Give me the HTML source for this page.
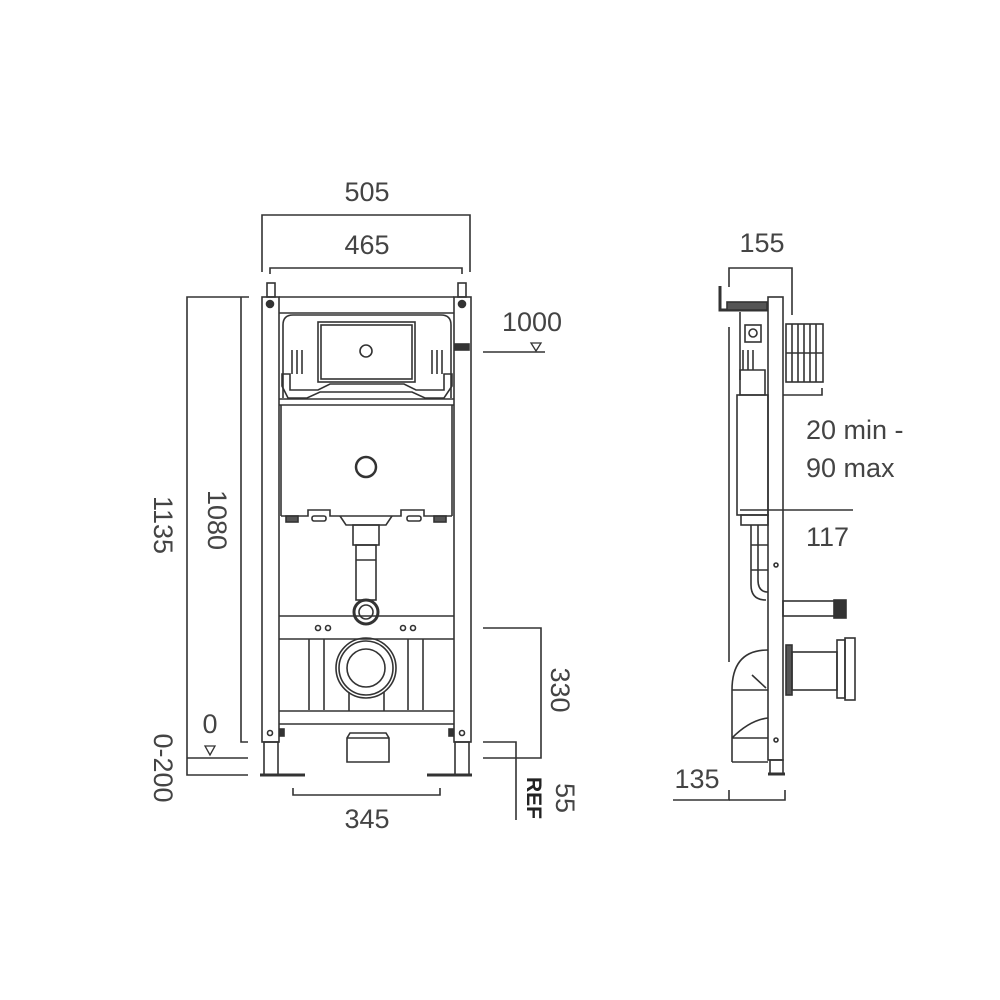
<!DOCTYPE html>
<html><head><meta charset="utf-8"><style>
html,body{margin:0;padding:0;background:#fff;}
svg{display:block;}
text{font-family:"Liberation Sans",sans-serif;fill:#444;font-size:27px;}
</style></head><body>
<svg width="1000" height="1000" viewBox="0 0 1000 1000" xmlns="http://www.w3.org/2000/svg">
<g fill="none" stroke="#333" stroke-width="1.6">
<!-- top dims -->
<polyline points="262,272 262,215 470,215 470,272"/>
<polyline points="270,274 270,268 462,268 462,274"/>
<!-- left dims -->
<polyline points="249,297 187,297 187,775 248,775"/>
<polyline points="241,297 241,742 248,742"/>
<line x1="187" y1="758" x2="248" y2="758"/>
<polygon points="205,746 215,746 210,755" stroke-width="1.3"/>
<!-- right dims -->
<line x1="483" y1="352" x2="545" y2="352"/>
<polygon points="531,343 541,343 536,351" stroke-width="1.3"/>
<polyline points="483,628 541,628 541,758 483,758"/>
<polyline points="483,742 516,742 516,820"/>
<polyline points="293,788 293,795 440,795 440,788"/>

<!-- front frame -->
<rect x="262" y="297" width="17" height="445"/>
<rect x="454" y="297" width="17" height="445"/>
<rect x="264" y="742" width="14" height="33"/>
<rect x="455" y="742" width="14" height="33"/>
<line x1="279" y1="297" x2="454" y2="297"/>
<line x1="279" y1="313" x2="454" y2="313"/>
<rect x="267" y="283" width="8" height="14"/>
<rect x="458" y="283" width="8" height="14"/>
<circle cx="270" cy="304" r="3.5" fill="#333"/>
<circle cx="462" cy="304" r="3.5" fill="#333"/>
<rect x="455" y="344" width="14" height="6" fill="#333"/>
<!-- upper cistern -->
<path d="M283,398 L283,325 Q283,315 293,315 L441,315 Q451,315 451,325 L451,398"/>
<rect x="318" y="322" width="97" height="60"/>
<rect x="321" y="325" width="91" height="54"/>
<circle cx="366" cy="351" r="6"/>
<path d="M282,374 L290,374 L290,390 L318,390 L330,384 L404,384 L416,390 L444,390 L444,374 L452,374 L452,386 L444,398 L425,398 L412,392 L320,392 L307,398 L288,398 L282,386 Z"/>
<line x1="292" y1="350" x2="292" y2="374"/><line x1="297" y1="350" x2="297" y2="374"/><line x1="302" y1="350" x2="302" y2="374"/>
<line x1="432" y1="350" x2="432" y2="374"/><line x1="437" y1="350" x2="437" y2="374"/><line x1="442" y1="350" x2="442" y2="374"/>
<line x1="279" y1="399" x2="454" y2="399"/>
<line x1="279" y1="405" x2="454" y2="405"/>
<!-- cistern body -->
<line x1="281" y1="405" x2="281" y2="516"/>
<line x1="452" y1="405" x2="452" y2="516"/>
<circle cx="366" cy="467" r="10" stroke-width="2.5"/>
<path d="M281,516 L308,516 L308,510 L330,510 L330,516 L401,516 L401,510 L424,510 L424,516 L452,516"/>
<rect x="312" y="516" width="14" height="5" rx="2"/>
<rect x="407" y="516" width="14" height="5" rx="2"/>
<path d="M340,516 L346,525 L386,525 L392,516"/>
<rect x="286" y="516" width="12" height="6" fill="#555"/>
<rect x="434" y="516" width="12" height="6" fill="#555"/>
<!-- pipe -->
<rect x="353" y="525" width="26" height="20"/>
<rect x="356" y="545" width="20" height="55"/>
<line x1="356" y1="560" x2="376" y2="560"/>
<circle cx="366" cy="612" r="12" stroke-width="3"/>
<circle cx="366" cy="612" r="7"/>
<!-- cross rail -->
<line x1="279" y1="616" x2="454" y2="616"/>
<line x1="279" y1="639" x2="454" y2="639"/>
<circle cx="318" cy="628" r="2.5"/><circle cx="328" cy="628" r="2.5"/>
<circle cx="403" cy="628" r="2.5"/><circle cx="413" cy="628" r="2.5"/>
<line x1="309" y1="639" x2="309" y2="710"/><line x1="324" y1="639" x2="324" y2="710"/>
<line x1="408" y1="639" x2="408" y2="710"/><line x1="423" y1="639" x2="423" y2="710"/>
<circle cx="366" cy="668" r="30"/>
<circle cx="366" cy="668" r="27"/>
<circle cx="366" cy="668" r="19"/>
<line x1="349" y1="692" x2="349" y2="711"/><line x1="384" y1="692" x2="384" y2="711"/>
<line x1="279" y1="711" x2="454" y2="711"/>
<line x1="279" y1="724" x2="454" y2="724"/>
<circle cx="270" cy="733" r="2.5"/><circle cx="462" cy="733" r="2.5"/>
<rect x="280" y="729" width="4" height="7" fill="#333"/>
<rect x="449" y="729" width="4" height="7" fill="#333"/>
<path d="M350,733 L347,738 L347,762 L389,762 L389,738 L386,733 Z"/>
<line x1="347" y1="738" x2="389" y2="738"/>
<line x1="260" y1="775" x2="305" y2="775" stroke-width="3"/>
<line x1="427" y1="775" x2="472" y2="775" stroke-width="3"/>

<!-- side view dims -->
<polyline points="729,287 729,268 792,268 792,315"/>
<line x1="729" y1="327" x2="729" y2="662"/>
<polyline points="729,790 729,800 673,800"/>
<polyline points="729,800 785,800 785,790"/>
<polyline points="783,395 822,395 822,388"/>
<line x1="740" y1="510" x2="853" y2="510"/>
<!-- side plate -->
<rect x="768" y="297" width="15" height="463"/>
<rect x="770" y="760" width="13" height="14"/>
<line x1="768" y1="774" x2="785" y2="774" stroke-width="3"/>
<!-- upper side parts -->
<path d="M720,286 L720,310 L768,310" stroke-width="3"/>
<rect x="727" y="302" width="40" height="8" fill="#555"/>
<rect x="745" y="325" width="16" height="17"/>
<circle cx="753" cy="333" r="4"/>
<line x1="740" y1="312" x2="740" y2="380"/>
<path d="M740,370 L740,395 L765,395 L765,370 Z"/>
<line x1="743" y1="350" x2="743" y2="370"/><line x1="748" y1="350" x2="748" y2="370"/><line x1="753" y1="350" x2="753" y2="370"/>
<rect x="737" y="395" width="31" height="120"/>
<rect x="741" y="515" width="27" height="10"/>
<path d="M751,525 L751,585 Q751,600 766,600"/>
<line x1="751" y1="545" x2="768" y2="545"/>
<line x1="751" y1="570" x2="768" y2="570"/>
<path d="M758,525 L758,580 Q758,592 768,592"/>
<!-- grill -->
<rect x="786" y="324" width="37" height="58"/>
<line x1="792" y1="324" x2="792" y2="382"/><line x1="798" y1="324" x2="798" y2="382"/><line x1="804" y1="324" x2="804" y2="382"/><line x1="810" y1="324" x2="810" y2="382"/><line x1="816" y1="324" x2="816" y2="382"/>
<line x1="786" y1="353" x2="823" y2="353"/>
<!-- pipes -->
<rect x="783" y="601" width="52" height="15"/>
<rect x="834" y="600" width="12" height="18" fill="#333"/>
<rect x="786" y="645" width="6" height="50" fill="#555"/>
<rect x="792" y="652" width="45" height="38"/>
<rect x="837" y="640" width="8" height="58"/>
<rect x="845" y="638" width="10" height="62"/>
<!-- bottom elbow -->
<path d="M732,690 Q732,650 768,650"/>
<line x1="732" y1="690" x2="768" y2="690"/>
<line x1="732" y1="690" x2="732" y2="762"/>
<line x1="732" y1="762" x2="768" y2="762"/>
<line x1="732" y1="738" x2="768" y2="738"/>
<path d="M732,738 Q750,720 768,718"/>
<line x1="752" y1="675" x2="766" y2="688"/>
<circle cx="776" cy="565" r="2"/><circle cx="776" cy="740" r="2"/>
</g>
<text x="367" y="201" text-anchor="middle">505</text>
<text x="367" y="254" text-anchor="middle">465</text>
<text x="532" y="331" text-anchor="middle">1000</text>
<text x="210" y="733" text-anchor="middle">0</text>
<text x="367" y="828" text-anchor="middle">345</text>
<text x="762" y="252" text-anchor="middle">155</text>
<text x="697" y="788" text-anchor="middle">135</text>
<text x="806" y="439">20 min -</text>
<text x="806" y="477">90 max</text>
<text x="806" y="546">117</text>
<text transform="translate(208,520) rotate(90)" text-anchor="middle">1080</text>
<text transform="translate(154,525) rotate(90)" text-anchor="middle">1135</text>
<text transform="translate(154,768) rotate(90)" text-anchor="middle">0-200</text>
<text transform="translate(551,690) rotate(90)" text-anchor="middle">330</text>
<text transform="translate(556,798) rotate(90)" text-anchor="middle">55</text>
<text transform="translate(527,798) rotate(90)" text-anchor="middle" style="font-weight:bold;font-size:21px;fill:#222">REF</text>
</svg>
</body></html>
